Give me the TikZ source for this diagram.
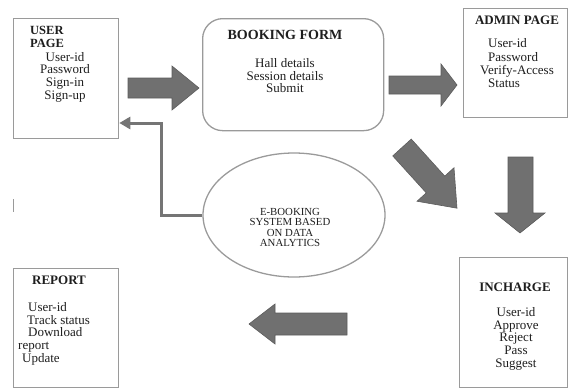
\documentclass[tikz,border=0pt]{standalone}
\usepackage{fontspec}
\setmainfont{Liberation Serif}
\usetikzlibrary{arrows.meta,shapes.geometric}
\definecolor{boxgray}{HTML}{9A9A9A}
\definecolor{arrowfill}{HTML}{707070}
\definecolor{arrowedge}{HTML}{5C5C5C}
\definecolor{inkc}{HTML}{1E1E1E}
\definecolor{linkc}{HTML}{757575}
\begin{document}
\begin{tikzpicture}[x=1pt,y=-1pt,
  panel/.style={draw=boxgray, line width=1.3pt, inner sep=0pt, anchor=north west},
  title/.style={inner sep=0pt, text=inkc, font=\fontsize{13}{13}\selectfont\bfseries},
  items/.style={inner sep=0pt, text=inkc, align=center, anchor=north,
                font=\fontsize{13}{12.6}\selectfont},
  fat/.style={fill=arrowfill, draw=arrowedge, line width=0.6pt, line join=miter},
  link/.style={draw=linkc, line width=3pt,
               -{Triangle[length=11pt,width=12pt]}}
]
\useasboundingbox (0,0) rectangle (570,391);

% ---- panels ----
\node[panel, minimum width=105, minimum height=120] (user) at (13,18) {};
\node[panel, rounded corners=20pt, minimum width=181, minimum height=112] (form) at (202,18) {};
\node[panel, minimum width=104, minimum height=109] (admin) at (463,8) {};
\node[panel, minimum width=108, minimum height=130] (incharge) at (459,257) {};
\node[panel, minimum width=105, minimum height=119] (report) at (13,268) {};
\node[ellipse, draw=boxgray, line width=1.3pt, inner sep=0pt,
      minimum width=182, minimum height=124] (ell) at (294,215) {};

% ---- panel texts ----
\node[title, align=left, anchor=north west, font=\fontsize{12.5}{12.5}\selectfont\bfseries]
  (usertitle) at (30,26.5) {USER\\PAGE};
\node[items] (userlist) at (65,52) {User-id\\Password\\Sign-in\\Sign-up};

\node[title, font=\fontsize{14}{14}\selectfont\bfseries] (formtitle) at (285,35) {BOOKING FORM};
\node[items] (formlist) at (285,58.5) {Hall details\\Session details\\Submit};

\node[title] (admintitle) at (517,20) {ADMIN PAGE};
\node[items, align=left, anchor=north west, font=\fontsize{13}{13.3}\selectfont]
  (adminlist) at (488,38.5) {User-id\\Password\\\hspace*{-8pt}Verify-Access\\Status};

\node[title] (inchargetitle) at (515,287) {INCHARGE};
\node[items] (inchargelist) at (516,307.5) {User-id\\Approve\\Reject\\Pass\\Suggest};

\node[title] (reporttitle) at (59,280) {REPORT};
\node[items, align=left, anchor=north west]
  (reportlist) at (18,302.5)
  {\hspace*{10pt}User-id\\\hspace*{9pt}Track status\\\hspace*{10pt}Download\\report\\\hspace*{4pt}Update};

\node[inner sep=0pt, text=inkc, align=center,
      font=\fontsize{10.8}{10.3}\selectfont] (elltext) at (290,227.5)
  {E-BOOKING\\SYSTEM BASED\\ON DATA\\ANALYTICS};

% ---- block arrows ----
% user page -> booking form
\filldraw[fat] (128,78) -- (172,78) -- (172,66) -- (199,88) -- (172,110)
  -- (172,98) -- (128,98) -- cycle;
% booking form -> admin page
\filldraw[fat] (389,76) -- (441,76) -- (441,64) -- (457,85) -- (441,106)
  -- (441,94) -- (389,94) -- cycle;
% diagonal arrow below the admin arrow
\filldraw[fat] (392.75,155.9) -- (411.25,139.1) -- (444.75,176.1) -- (454,167.75)
  -- (457,208.2) -- (417,201.25) -- (426.25,192.9) -- cycle;
% admin page -> incharge
\filldraw[fat] (508,157) -- (533,157) -- (533,213) -- (545,213) -- (520,233)
  -- (495,213) -- (508,213) -- cycle;
% incharge -> report
\filldraw[fat] (347,313) -- (347,335) -- (275,335) -- (275,344) -- (249,324)
  -- (275,304) -- (275,313) -- cycle;

% ---- system ellipse back to the user page ----
\coordinate (bend) at (161,123);
\draw[link] (ell.west) -| (bend) -- (user.east |- bend);

% small tick at the left margin
\draw[draw=boxgray, line width=1.2pt] (13.5,199) -- (13.5,212);
\end{tikzpicture}
\end{document}
